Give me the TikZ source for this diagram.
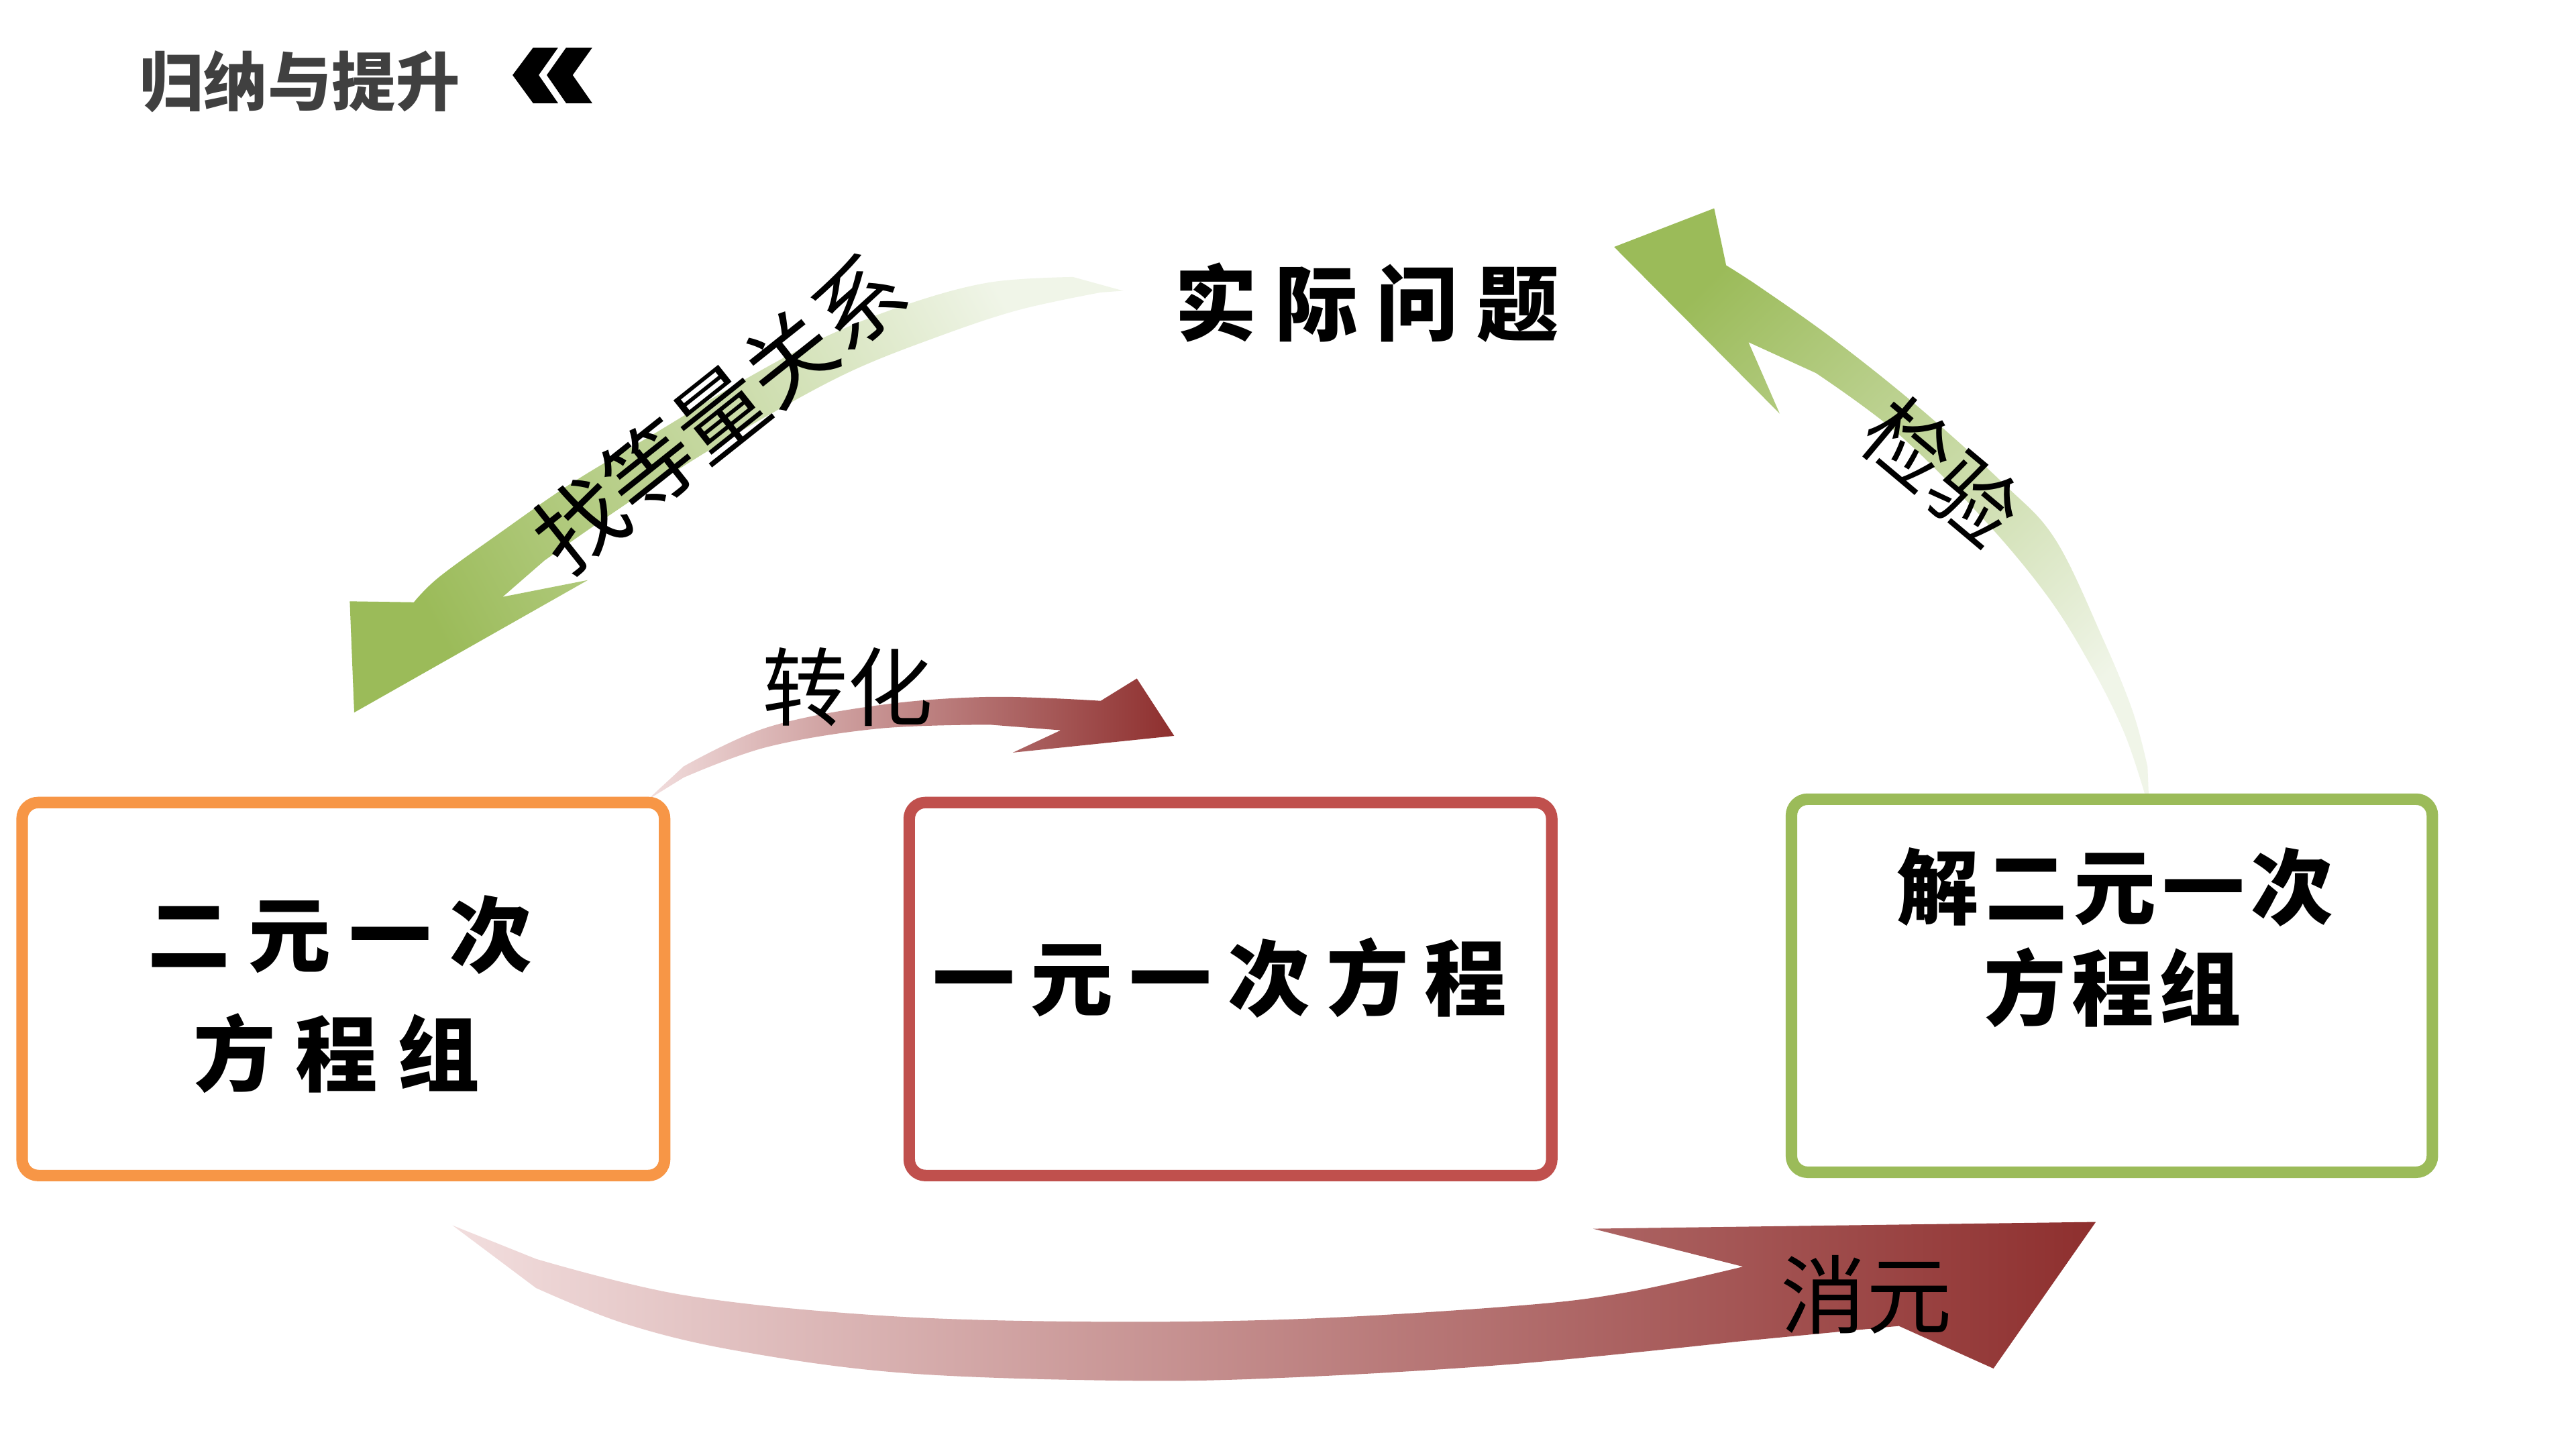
\documentclass[tikz,border=0pt]{standalone}
\usepackage{fontspec}
\newfontfamily\cjk{Noto Sans CJK SC}
\definecolor{grn}{HTML}{9BBB59}
\definecolor{grnlt}{HTML}{F0F5E8}
\definecolor{org}{HTML}{F79646}
\definecolor{rd}{HTML}{C0504D}
\definecolor{rdk}{HTML}{8E2F2E}
\definecolor{rlt}{HTML}{F2DEDE}
\definecolor{ttl}{HTML}{404040}
\begin{document}
\begin{tikzpicture}[x=0.025cm,y=-0.025cm,
  box/.style={draw, line width=4.98pt, rounded corners=7pt, minimum width=9.775cm, minimum height=5.675cm, inner sep=0pt},
  boxtxt/.style={inner sep=0pt, font=\cjk\bfseries\fontsize{35.6pt}{40pt}\selectfont},
  lbl/.style={inner sep=0pt, font=\cjk\fontsize{37pt}{40pt}\selectfont}]
\useasboundingbox[fill=white] (0,0) rectangle (1568,882);

% title
\node[inner sep=0pt, text=ttl, font=\cjk\bfseries\fontsize{27.7pt}{30pt}\selectfont] (title) at (182.5,49.5) {归纳与提升};
\fill[black] (324.5,29.0) -- (339.7,29.0) -- (327.9,45.7) -- (339.7,62.8) -- (324.5,62.8) -- (312.0,45.7) -- cycle;
\fill[black] (344.6,29.0) -- (360.5,29.0) -- (348.6,45.7) -- (360.5,62.8) -- (344.6,62.8) -- (332.8,45.7) -- cycle;

% arrow 1: find equal relation (green, down-left)
\shade[top color=grn, bottom color=grnlt, shading angle=118]
 (683.6,177.0) -- plot[smooth, tension=0.6] coordinates {(653.1,168.6) (602.3,171.9) (551.5,185.5) (500.7,205.8) (450.0,232.9) (399.2,263.4) (348.4,293.8) (304.4,324.3) (267.1,351.4) (251.9,366.6)}
 -- (212.9,366.0) -- (215.6,433.7) -- (357.8,353.1) -- (306.0,363.3)
 -- plot[smooth, tension=0.6] coordinates {(331.4,341.2) (365.3,317.5) (416.1,283.7) (466.9,253.2) (517.7,226.1) (568.5,205.8) (619.2,188.9) (670.0,178.0)} -- cycle;

% arrow 2: check (green, up-left)
\shade[top color=grn, bottom color=grnlt, shading angle=44]
 (1308.0,487.0) -- plot[smooth, tension=0.6] coordinates {(1307.2,466.7) (1298.1,432.8) (1279.9,388.5) (1251.2,328.6) (1220.0,294.8) (1167.9,247.9) (1115.8,206.3) (1071.6,175.0) (1050.7,161.5)}
 -- (1043.4,126.8) -- (982.5,150.3) -- (1083.3,251.8) -- (1064.3,208.3)
 -- plot[smooth, tension=0.6] coordinates {(1105.4,227.1) (1154.9,263.6) (1207.0,315.6) (1246.0,362.5) (1272.1,404.2) (1292.9,445.8) (1306.0,484.9)} -- cycle;

% arrow 3: transform (red)
\shade[left color=rlt, right color=rdk]
 (394.1,486.9) -- plot[smooth, tension=0.6] coordinates {(416.1,466.5) (466.9,442.8) (534.6,429.3) (602.3,424.2) (670.0,426.6)}
 -- (692.0,413.0) -- (714.7,447.9) -- (616.5,458.1) -- (645.7,444.5)
 -- plot[smooth, tension=0.6] coordinates {(602.3,441.1) (534.6,443.5) (466.9,454.7) (416.1,473.3)} -- cycle;

% arrow 4: eliminate (red, bottom)
\shade[left color=rlt, right color=rdk]
 (275.5,745.9) -- plot[smooth, tension=0.6] coordinates {(326.3,766.3) (414.3,788.0) (529.4,800.3) (651.3,804.4) (786.8,803.0) (922.2,794.9) (989.9,786.7) (1061.0,771.0)}
 -- (969.6,747.9) -- (1275.7,743.8) -- (1213.4,833.0) -- (1155.8,807.1)
 -- plot[smooth, tension=0.6] coordinates {(1057.6,816.6) (922.2,830.2) (786.8,838.4) (685.2,840.4) (549.7,835.7) (448.2,822.1) (380.4,805.7) (326.3,784.0)} -- cycle;

% boxes
\node[box, draw=org] (b1) at (209,602) {};
\node[box, draw=rd] (b2) at (749,602) {};
\node[box, draw=grn, minimum width=9.75cm] (b3) at (1285.5,600) {};

\node[boxtxt] (t1a) at (207,569) {二\hspace{8pt}元\hspace{8pt}一\hspace{8pt}次};
\node[boxtxt] (t1b) at (205,641) {方\hspace{8.5pt}程\hspace{8.5pt}组};
\node[boxtxt] (t2) at (742.5,595) {一\hspace{7pt}元\hspace{7pt}一\hspace{7pt}次\hspace{7pt}方\hspace{7pt}程};
\node[boxtxt] (t3a) at (1287.5,540) {解\hspace{2.7pt}二\hspace{2.7pt}元\hspace{2.7pt}一\hspace{2.7pt}次};
\node[boxtxt] (t3b) at (1286,601) {方\hspace{2.2pt}程\hspace{2.2pt}组};
\node[boxtxt] (top) at (832,184) {实\hspace{8pt}际\hspace{8pt}问\hspace{8pt}题};

% labels
\node[lbl] (l1) at (516,418) {转化};
\node[lbl] (l2) at (1136,788) {消元};
\node[inner sep=0pt, font=\cjk\fontsize{38.4pt}{40pt}\selectfont, rotate=38.5] (l3) at (438,251) {找等量关系};
\node[inner sep=0pt, font=\cjk\fontsize{37pt}{40pt}\selectfont, rotate=-40] (l4) at (1182,287) {检验};
\end{tikzpicture}
\end{document}
